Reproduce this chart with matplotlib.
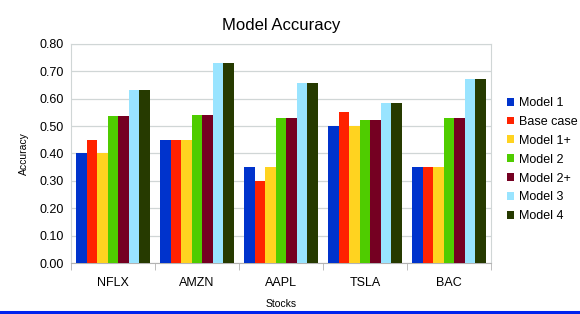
import numpy as np
import matplotlib
matplotlib.use('Agg')
import matplotlib.pyplot as plt
from matplotlib.lines import Line2D

plt.rcParams['font.family'] = ['Liberation Sans', 'DejaVu Sans']

stocks = ['NFLX', 'AMZN', 'AAPL', 'TSLA', 'BAC']
models = ['Model 1', 'Base case', 'Model 1+', 'Model 2', 'Model 2+', 'Model 3', 'Model 4']
model_1 = [0.40, 0.45, 0.35, 0.50, 0.35]
base_case = [0.45, 0.45, 0.30, 0.55, 0.35]
model_1p = [0.40, 0.45, 0.35, 0.50, 0.35]
model_2 = [0.537, 0.542, 0.528, 0.524, 0.530]
model_2p = [0.537, 0.542, 0.528, 0.524, 0.530]
model_3 = [0.632, 0.730, 0.656, 0.586, 0.672]
model_4 = [0.632, 0.730, 0.656, 0.586, 0.672]
colors = ['#0033cc', '#ff2200', '#ffd320', '#4fcc00', '#750022', '#99e4ff', '#263a00']

series = [model_1, base_case, model_1p, model_2, model_2p, model_3, model_4]

fig = plt.figure(figsize=(5.8, 3.14), dpi=100)
ax = fig.add_axes([0.1224, 0.1624, 0.7242, 0.6975])

x = np.arange(len(stocks))
n = len(series)
w = 0.87 / n
for i, vals in enumerate(series):
    ax.bar(x - 0.435 + w * (i + 0.5), vals, width=w, color=colors[i],
           label=models[i], zorder=3)

ax.set_xlim(-0.5, len(stocks) - 0.5)
ax.set_ylim(0, 0.8)
ax.set_yticks(np.arange(0, 0.81, 0.1))
ax.set_yticklabels([f'{v:.2f}' for v in np.arange(0, 0.81, 0.1)], fontsize=9)
ax.set_xticks(x)
ax.set_xticklabels(stocks, fontsize=9)
ax.set_xticks(np.arange(-0.5, len(stocks), 1), minor=True)
ax.tick_params(axis='x', which='major', length=0, pad=10)
ax.tick_params(axis='x', which='minor', length=5, color='#b3b3b3')
ax.tick_params(axis='y', length=0, pad=5)
ax.grid(axis='y', color='#d0d6d6', linewidth=0.9, zorder=0)
for s in ax.spines.values():
    s.set_color('#d0d6d6')
ax.spines['bottom'].set_color('#b3b3b3')

ax.set_title('Model Accuracy', fontsize=12, pad=10)
ax.set_xlabel('Stocks', fontsize=7.5, labelpad=7)
ax.set_ylabel('Accuracy', fontsize=7.5, labelpad=8)

ax.legend(loc='center left', bbox_to_anchor=(1.025, 0.472), frameon=False,
          fontsize=9, handlelength=0.6, handleheight=0.6, handletextpad=0.4,
          labelspacing=0.55, borderaxespad=0)

fig.add_artist(Line2D([0, 1], [0.006, 0.006], transform=fig.transFigure,
                      color='#0022ee', linewidth=2.2))

fig.savefig('out.png', dpi=100)
